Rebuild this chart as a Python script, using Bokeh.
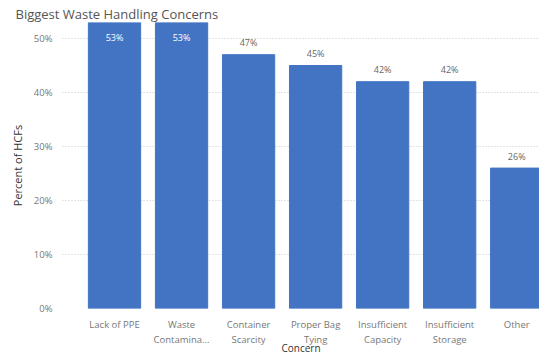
from bokeh.plotting import figure
from bokeh.models import ColumnDataSource, FixedTicker, PrintfTickFormatter, Range1d, Title
from bokeh.embed import file_html
from bokeh.resources import INLINE

categories = ["Lack of PPE", "Waste\nContamina...", "Container\nScarcity", "Proper Bag\nTying",
              "Insufficient\nCapacity", "Insufficient\nStorage", "Other"]
values = [53, 53, 47, 45, 42, 42, 26]
y_ticks = [0, 10, 20, 30, 40, 50]
title_text = "Biggest Waste Handling Concerns"
x_title = "Concern"
y_title = "Percent of HCFs"

FONT = "Open Sans"
BAR = "#4374C4"
X_LO, X_HI = -0.776, 6.34
Y_TOP = 52.96

xs = list(range(len(categories)))
inside = [v + 2.5 > Y_TOP for v in values]
label_y = [v for v in values]
label_off = [15 if ins else -12 for ins in inside]
label_col = ["white" if ins else "#666666" for ins in inside]
labels = [f"{v}%" for v in values]

src = ColumnDataSource(dict(x=xs, top=values, ly=label_y, loff=label_off, lcol=label_col, lab=labels))

p = figure(width=539, height=358, output_backend="svg", toolbar_location=None,
           x_range=Range1d(X_LO, X_HI), y_range=Range1d(0, Y_TOP),
           min_border_left=62, min_border_right=0, min_border_top=22, min_border_bottom=50)
p.outline_line_color = None
p.background_fill_color = "white"
p.border_fill_color = "white"

p.title = Title(text=title_text, text_font=FONT, text_font_size="13px",
                text_font_style="normal", text_color="#555555", offset=-47, standoff=0)

p.vbar(x="x", top="top", width=0.78, bottom=0, source=src, color=BAR)
p.text(x="x", y="ly", text="lab", y_offset="loff", text_color="lcol", source=src,
       text_align="center", text_baseline="middle", text_font_size="9px",
       text_font={"value": FONT})

p.xgrid.grid_line_color = None
p.ygrid.grid_line_color = "#C8C8C8"
p.ygrid.grid_line_dash = "1 2"
p.ygrid.ticker = FixedTicker(ticks=y_ticks)

p.yaxis.ticker = FixedTicker(ticks=y_ticks)
p.yaxis.formatter = PrintfTickFormatter(format="%d%%")
p.yaxis.axis_line_color = None
p.yaxis.major_tick_line_color = None
p.yaxis.minor_tick_line_color = None
p.yaxis.major_label_text_font = FONT
p.yaxis.major_label_text_font_size = "9.5px"
p.yaxis.major_label_text_color = "#777777"
p.yaxis.major_label_standoff = 4
p.yaxis.axis_label = y_title
p.yaxis.axis_label_text_font = FONT
p.yaxis.axis_label_text_font_size = "11px"
p.yaxis.axis_label_text_font_style = "normal"
p.yaxis.axis_label_text_color = "#333333"
p.yaxis.axis_label_standoff = 6

p.xaxis.ticker = FixedTicker(ticks=xs)
p.xaxis.major_label_overrides = {i: c for i, c in zip(xs, categories)}
p.xaxis.axis_line_color = None
p.xaxis.major_tick_line_color = None
p.xaxis.minor_tick_line_color = None
p.xaxis.major_label_text_font = FONT
p.xaxis.major_label_text_font_size = "9.5px"
p.xaxis.major_label_text_color = "#777777"
p.xaxis.major_label_standoff = 3
p.xaxis.axis_label = x_title
p.xaxis.axis_label_text_font = FONT
p.xaxis.axis_label_text_font_size = "10px"
p.xaxis.axis_label_text_font_style = "normal"
p.xaxis.axis_label_text_color = "#333333"
p.xaxis.axis_label_standoff = -8

open("out.html", "w").write(file_html(p, INLINE))
